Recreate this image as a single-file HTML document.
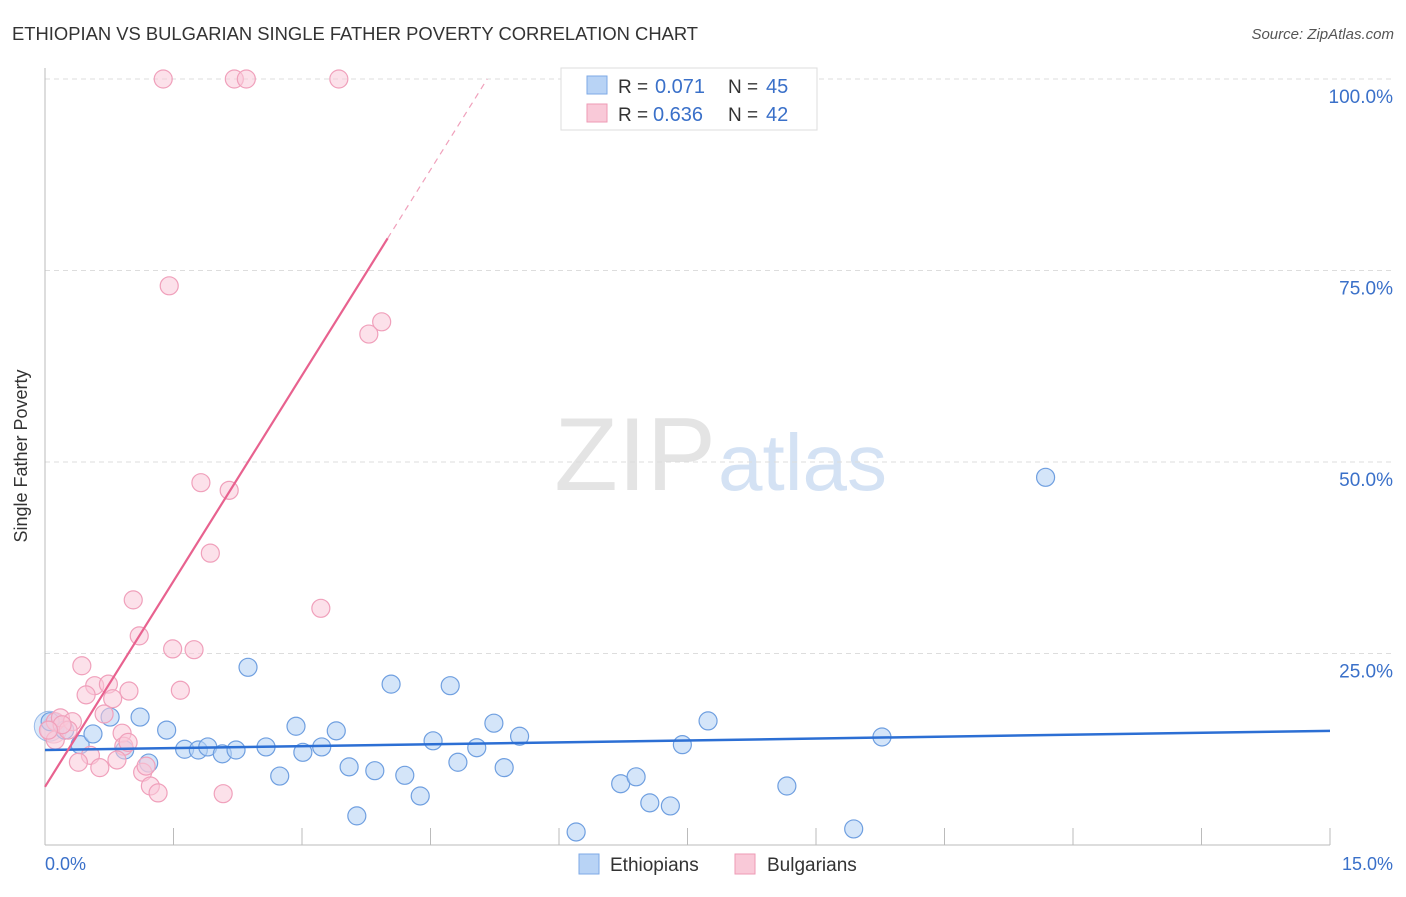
<!DOCTYPE html>
<html><head><meta charset="utf-8"><style>
body{margin:0;background:#fff;font-family:"Liberation Sans",sans-serif;}
svg text{font-family:"Liberation Sans",sans-serif;}
</style></head><body>
<svg width="1406" height="892">
<text x="12" y="40" font-size="18.4" fill="#333">ETHIOPIAN VS BULGARIAN SINGLE FATHER POVERTY CORRELATION CHART</text>
<text x="1394" y="39" font-size="15" fill="#555" font-style="italic" text-anchor="end">Source: ZipAtlas.com</text>
<text x="716" y="490" font-size="104" fill="#e4e4e4" font-family="Liberation Serif" text-anchor="end">ZIP</text>
<text x="718" y="490" font-size="80" fill="#d4e2f4">atlas</text>
<g id="grid"></g>
<g id="axes"></g>
<g id="pts"></g>
<g id="lines"></g>
<text x="27" y="456" font-size="18" fill="#333" transform="rotate(-90 27 456)" text-anchor="middle">Single Father Poverty</text>
<text x="45" y="870" font-size="18" fill="#3a70c9">0.0%</text>
<text x="1393" y="870" font-size="18" fill="#3a70c9" text-anchor="end">15.0%</text>
<g>
<rect x="561" y="68" width="256" height="62" fill="#fff" stroke="#ddd"/>
<rect x="587" y="76" width="20" height="18" fill="#b8d3f5" stroke="#7ea9e6"/>
<rect x="587" y="104" width="20" height="18" fill="#f9c9d8" stroke="#ee9ab5"/>
<text x="618" y="93" font-size="19" fill="#333">R = </text><text x="655" y="93" font-size="20" fill="#3a70c9">0.071</text>
<text x="728" y="93" font-size="19" fill="#333">N = </text><text x="766" y="93" font-size="20" fill="#3a70c9">45</text>
<text x="618" y="121" font-size="19" fill="#333">R = </text><text x="653" y="121" font-size="20" fill="#3a70c9">0.636</text>
<text x="728" y="121" font-size="19" fill="#333">N = </text><text x="766" y="121" font-size="20" fill="#3a70c9">42</text>
</g>
<g>
<rect x="579" y="854" width="20" height="20" fill="#b8d3f5" stroke="#7ea9e6"/>
<text x="610" y="871" font-size="19" fill="#333">Ethiopians</text>
<rect x="735" y="854" width="20" height="20" fill="#f9c9d8" stroke="#ee9ab5"/>
<text x="767" y="871" font-size="19" fill="#333">Bulgarians</text>
</g>
</svg>
<script>
const blueX=[0.06,0.23,0.41,0.56,0.76,0.93,1.11,1.21,1.42,1.63,1.79,1.90,2.07,2.23,2.37,2.58,2.74,2.93,3.01,3.23,3.40,3.55,3.64,3.85,4.04,4.20,4.38,4.53,4.73,4.82,5.04,5.24,5.36,5.54,6.20,6.72,6.90,7.06,7.30,7.44,7.74,8.66,9.44,9.77,11.68];
const blueY=[16.1,15.0,13.1,14.5,16.7,12.4,16.7,10.7,15.0,12.5,12.4,12.8,11.9,12.4,23.2,12.8,9.0,15.5,12.1,12.8,14.9,10.2,3.8,9.7,21.0,9.1,6.4,13.6,20.8,10.8,12.7,15.9,10.1,14.2,1.7,8.0,8.9,5.5,5.1,13.1,16.2,7.7,2.1,14.1,48.0];
const pinkX=[1.38,2.21,2.35,3.43,1.45,3.78,3.93,1.82,2.15,1.93,1.03,3.22,1.10,1.49,1.74,0.43,0.58,0.74,1.58,0.48,0.79,0.98,0.69,0.12,0.18,0.32,0.90,0.92,0.53,0.39,0.84,0.64,1.14,1.23,1.32,2.08,0.12,0.27,0.20,0.04,0.97,1.18];
const pinkY=[100,100,100,100,73.0,66.7,68.3,47.3,46.3,38.1,32.0,30.9,27.3,25.6,25.5,23.4,20.8,21.0,20.2,19.6,19.1,20.1,17.1,16.1,16.6,16.1,14.6,12.9,11.7,10.8,11.1,10.1,9.5,7.7,6.8,6.7,13.7,15.0,15.7,15.0,13.4,10.3];
const yTicks=[25,50,75,100];
const yTickLabels=["25.0%","50.0%","75.0%","100.0%"];
const xTicks=[1.5,3,4.5,6,7.5,9,10.5,12,13.5,15];
const blueTrend=[12.4,14.9];
const pinkTrend=[7.6,17.9];
const NS="http://www.w3.org/2000/svg";
const X=v=>45+v/15*1285, Y=v=>845-v/100*766;
function mk(t,p,a){const e=document.createElementNS(NS,t);for(const k in a)e.setAttribute(k,a[k]);p.appendChild(e);return e;}
const g=document.getElementById('grid'),ax=document.getElementById('axes'),pt=document.getElementById('pts'),ln=document.getElementById('lines');
yTicks.forEach((v,i)=>{
 const l=mk('line',g,{x1:45,x2:1395,y1:Y(v),y2:Y(v),stroke:'#ddd','stroke-dasharray':'5,4'});
 
 
 const t=mk('text',g,{x:1393,y:Y(v)+24,'font-size':19,fill:'#3a70c9','text-anchor':'end'});t.textContent=yTickLabels[i];
 
 
});
mk('line',ax,{x1:45,x2:45,y1:68,y2:845,stroke:'#bbb'});
mk('line',ax,{x1:45,x2:1330,y1:845,y2:845,stroke:'#bbb'});
xTicks.forEach(v=>{const l=mk('line',ax,{x1:X(v),x2:X(v),y1:828,y2:845,stroke:'#bbb'});
 
 });
mk('circle',pt,{cx:X(0.05),cy:Y(15.5),r:15,fill:'rgba(184,211,245,0.5)',stroke:'rgba(100,150,220,0.6)'});
mk('circle',pt,{cx:X(0.1),cy:Y(15),r:13,fill:'rgba(249,201,216,0.5)',stroke:'rgba(230,140,170,0.6)'});
blueX.forEach((x,i)=>{const c=mk('circle',pt,{cx:X(x),cy:Y(blueY[i]),r:9,fill:'rgba(184,211,245,0.6)',stroke:'#6f9fe0','stroke-width':1.2});
 
 });
pinkX.forEach((x,i)=>{const c=mk('circle',pt,{cx:X(x),cy:Y(pinkY[i]),r:9,fill:'rgba(249,201,216,0.55)',stroke:'#f0a0bb','stroke-width':1.2});
 
 });
const bl=mk('line',ln,{x1:X(0),y1:Y(blueTrend[0]),x2:X(15),y2:Y(blueTrend[1]),stroke:'#2c6fd4','stroke-width':2.5});


const pf=x=>pinkTrend[0]+pinkTrend[1]*x;
const pl=mk('line',ln,{x1:X(0),y1:Y(pf(0)),x2:X(4.0),y2:Y(pf(4.0)),stroke:'#e8628f','stroke-width':2.2});


const xe=(100-pinkTrend[0])/pinkTrend[1];
const pd=mk('line',ln,{x1:X(4.0),y1:Y(pf(4.0)),x2:X(xe),y2:Y(100),stroke:'#f0a0bb','stroke-width':1.2,'stroke-dasharray':'6,5'});


</script>
</body></html>
